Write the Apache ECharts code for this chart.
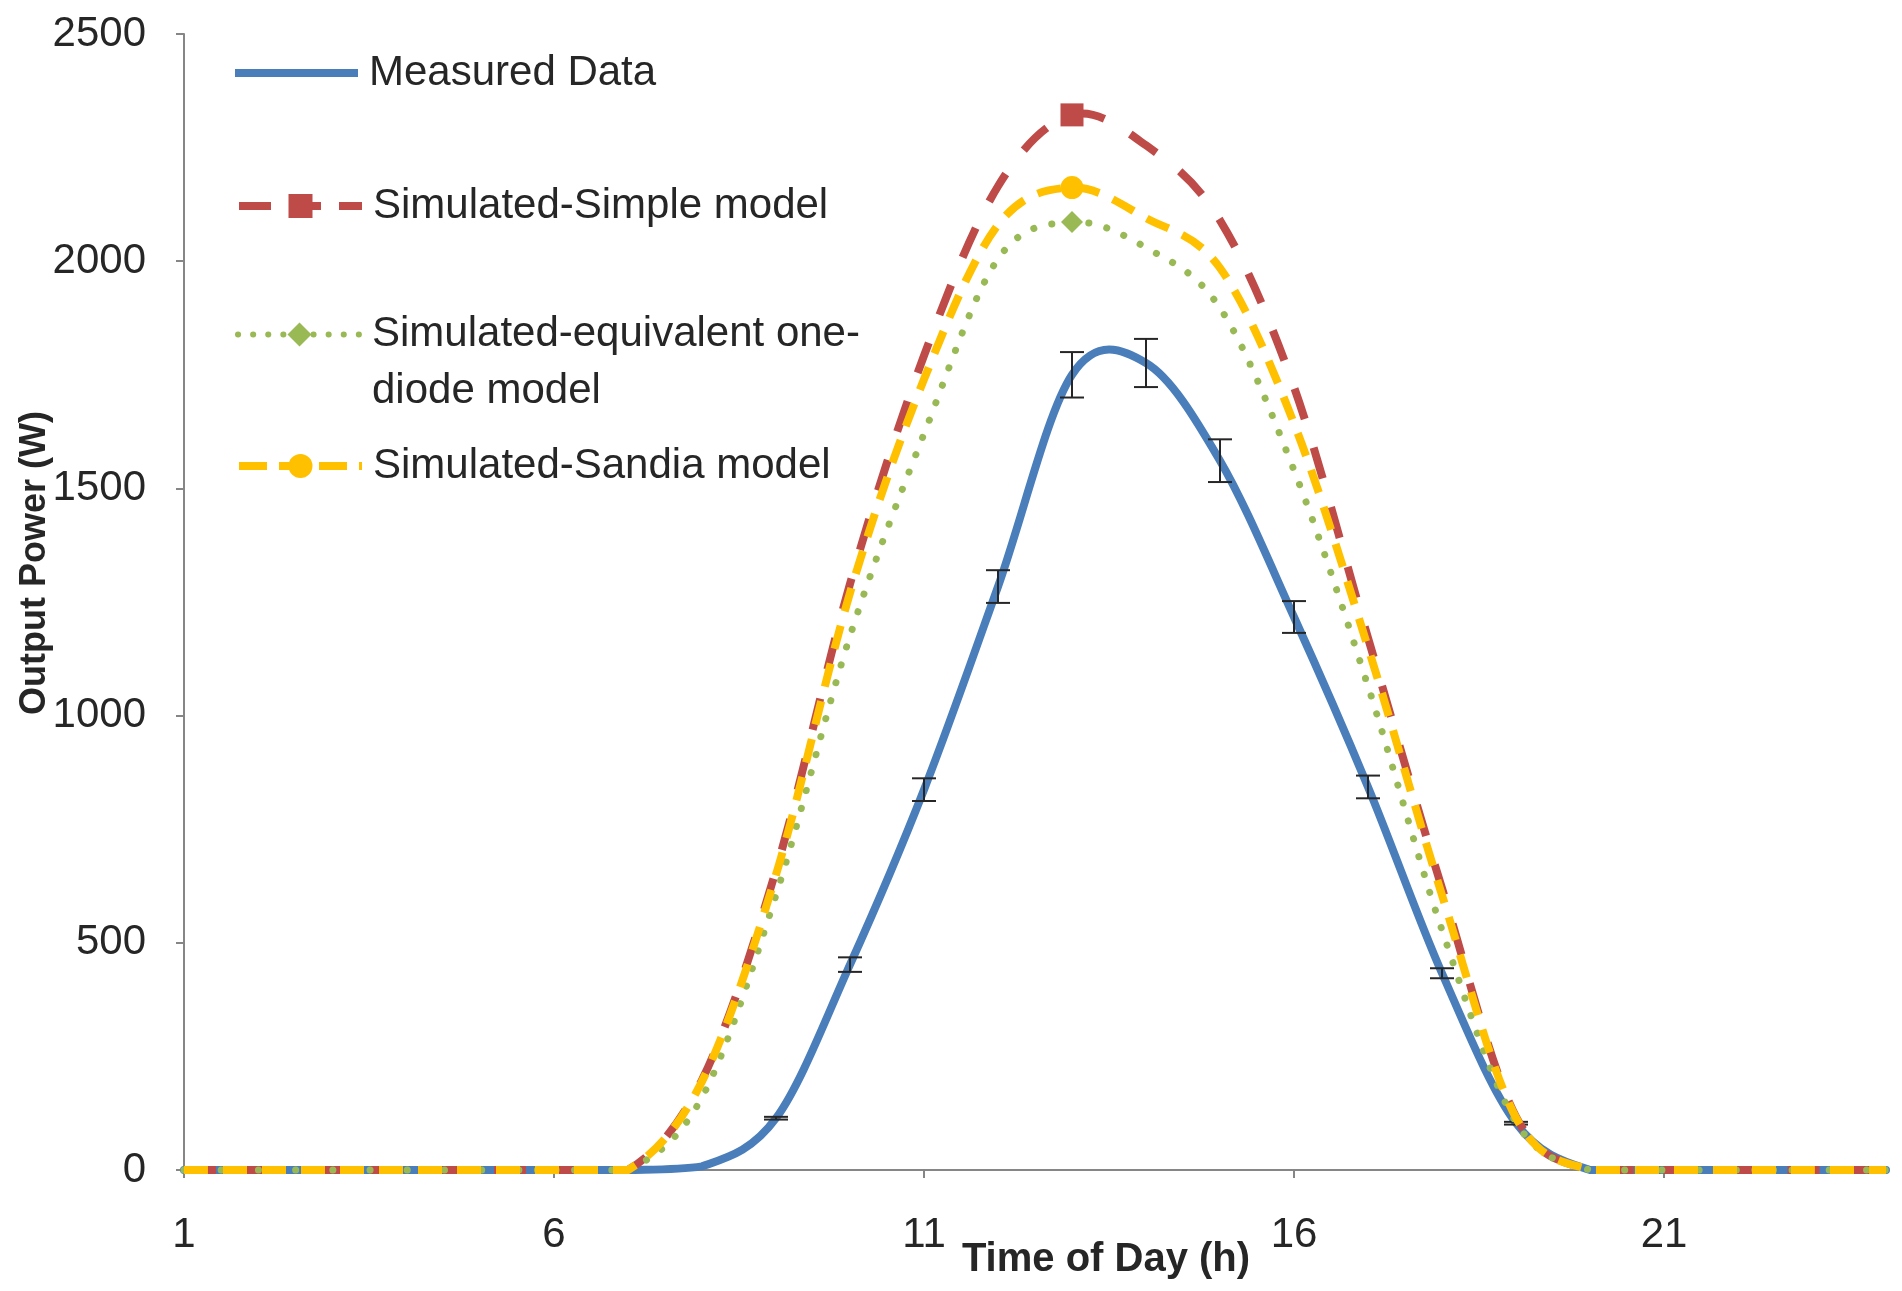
<!DOCTYPE html>
<html>
<head>
<meta charset="utf-8">
<title>Output Power vs Time of Day</title>
<script src="https://cdn.jsdelivr.net/npm/echarts@6/dist/echarts.min.js"></script>
<style>
  html, body { margin: 0; padding: 0; background: #ffffff; }
  #chart { width: 1902px; height: 1291px; }
</style>
</head>
<body>
<div id="chart"></div>
<script>
// Hour of day (category axis)
const hours = ['1','2','3','4','5','6','7','8','9','10','11','12',
               '13','14','15','16','17','18','19','20','21','22','23','24'];

// Output power, W
const measured      = [0,0,0,0,0,0,0,8,114,452,837,1284,1750,1776,1561,1217,843,433,103,0,0,0,0,0];
const measuredErr   = [0,0,0,0,0,0,0,0,3,16,25,36,50,53,47,35,25,11,3,0,0,0,0,0];
const simpleModel   = [0,0,0,0,0,0,0,198,660,1290,1792,2165,2322,2255,2090,1723,1171,620,117,0,0,0,0,0];
const oneDiodeModel = [0,0,0,0,0,0,0,160,605,1175,1620,2005,2086,2030,1897,1540,1065,528,105,0,0,0,0,0];
const sandiaModel   = [0,0,0,0,0,0,0,195,650,1270,1740,2080,2162,2095,1985,1643,1150,605,115,0,0,0,0,0];

// Y axis range and step
const yMin = 0, yMax = 2500, yStep = 500;

const seriesNames = [
  'Measured Data',
  'Simulated-Simple model',
  'Simulated-equivalent one-diode model',
  'Simulated-Sandia model'
];

// Hour whose point carries a marker on the simulated curves
const markerHour = '13';

const FONT = '"Liberation Sans", Arial, sans-serif';
const TEXT = '#262626';
const AXIS = '#868686';
const COLORS = { measured: '#4A7EBB', simple: '#BE4B48', diode: '#98B954', sandia: '#FFC000' };

function withMarker(values, size) {
  return values.map((v, i) => hours[i] === markerHour ? { value: v, symbolSize: size } : v);
}

// Smooth curve through every point (Catmull-Rom converted to cubic Bezier),
// positioned with the grid's own coordinate mapping. Control points are kept
// above the zero line so the curve never dips below 0 W.
function curvePath(values, api) {
  const pts = values.map((v, i) => api.coord([i, v]));
  const zeroY = api.coord([0, 0])[1];
  const n = pts.length;
  let d = 'M' + pts[0][0] + ',' + pts[0][1];
  for (let i = 0; i < n - 1; i++) {
    const p0 = pts[Math.max(i - 1, 0)];
    const p1 = pts[i];
    const p2 = pts[i + 1];
    const p3 = pts[Math.min(i + 2, n - 1)];
    const c1x = p1[0] + (p2[0] - p0[0]) / 6;
    const c1y = Math.min(p1[1] + (p2[1] - p0[1]) / 6, zeroY);
    const c2x = p2[0] - (p3[0] - p1[0]) / 6;
    const c2y = Math.min(p2[1] - (p3[1] - p1[1]) / 6, zeroY);
    d += ' C' + c1x + ',' + c1y + ' ' + c2x + ',' + c2y + ' ' + p2[0] + ',' + p2[1];
  }
  return d;
}

function curveSeries(values, stroke, width, dash, cap) {
  return {
    type: 'custom',
    silent: true,
    data: values.map((v, i) => [i, v]),
    encode: { x: 0, y: 1 },
    renderItem: function (params, api) {
      if (params.dataIndex !== 0) return null;
      return {
        type: 'path',
        shape: { pathData: curvePath(values, api) },
        style: { stroke: stroke, lineWidth: width, lineDash: dash, lineCap: cap || 'butt', lineJoin: 'round', fill: 'none' }
      };
    }
  };
}

// Legend-and-marker series: the line itself is drawn by the curve series
function markerSeries(name, values, symbol, size, color) {
  return {
    name: name,
    type: 'line',
    data: symbol === 'none' ? values : withMarker(values, size),
    symbol: symbol,
    symbolSize: 0,
    showAllSymbol: true,
    lineStyle: { color: color, opacity: 0 },
    itemStyle: { color: color }
  };
}

const errorData = [];
measured.forEach((v, i) => {
  if (measuredErr[i] > 0) errorData.push([i, v - measuredErr[i], v + measuredErr[i]]);
});

const chart = echarts.init(document.getElementById('chart'), null, { renderer: 'canvas' });

const legendText = { fontFamily: FONT, fontSize: 42, color: TEXT, lineHeight: 30, padding: [0, 0, 0, 6] };
const legendBase = {
  orient: 'vertical',
  left: 235,
  itemWidth: 123,
  itemHeight: 30,
  padding: 0,
  selectedMode: false,
  textStyle: legendText
};

const option = {
  backgroundColor: '#ffffff',
  animation: false,
  grid: { left: 184, right: 16, top: 34, bottom: 121, containLabel: false, outerBoundsMode: 'none' },
  legend: [
    Object.assign({}, legendBase, {
      top: 52, itemHeight: 8,
      data: [{ name: seriesNames[0], icon: 'rect' }]
    }),
    Object.assign({}, legendBase, {
      top: 185,
      data: [seriesNames[1]],
      lineStyle: { color: COLORS.simple, width: 8, type: [32, 18], opacity: 1 }
    }),
    Object.assign({}, legendBase, {
      top: 249,
      data: [seriesNames[2]],
      formatter: name => ' \n' + name.replace('one-', 'one-\n'),
      textStyle: Object.assign({}, legendText, { lineHeight: 57 }),
      lineStyle: { color: COLORS.diode, width: 6, type: [0.1, 15], cap: 'round', opacity: 1 }
    }),
    Object.assign({}, legendBase, {
      top: 445,
      data: [seriesNames[3]],
      lineStyle: { color: COLORS.sandia, width: 8, type: [28, 12], opacity: 1 }
    })
  ],
  xAxis: {
    type: 'category',
    data: hours,
    boundaryGap: false,
    axisLine: { show: true, lineStyle: { color: AXIS, width: 2 } },
    axisTick: { show: true, interval: 4, length: 8, lineStyle: { color: AXIS, width: 2 } },
    axisLabel: { interval: 4, margin: 44, fontFamily: FONT, fontSize: 42, color: TEXT },
    splitLine: { show: false },
    name: 'Time of Day (h)',
    nameLocation: 'middle',
    nameGap: 70,
    nameMoveOverlap: false,
    nameTextStyle: { fontFamily: FONT, fontSize: 40, fontWeight: 'bold', color: TEXT, padding: [0, 0, 0, 142] }
  },
  yAxis: {
    type: 'value',
    min: yMin, max: yMax, interval: yStep,
    axisLine: { show: true, lineStyle: { color: AXIS, width: 2 } },
    axisTick: { show: true, length: 8, lineStyle: { color: AXIS, width: 2 } },
    axisLabel: { margin: 38, fontFamily: FONT, fontSize: 42, color: TEXT, formatter: v => String(v) },
    splitLine: { show: false },
    name: 'Output Power (W)',
    nameLocation: 'middle',
    nameGap: 131,
    nameMoveOverlap: false,
    nameTextStyle: { fontFamily: FONT, fontSize: 36, fontWeight: 'bold', color: TEXT, padding: [0, 0, 0, 78] }
  },
  series: [
    curveSeries(measured, COLORS.measured, 8, null, 'round'),
    {
      name: 'error',
      type: 'custom',
      silent: true,
      data: errorData,
      encode: { x: 0, y: [1, 2] },
      renderItem: function (params, api) {
        const x = api.value(0);
        const lo = api.coord([x, api.value(1)]);
        const hi = api.coord([x, api.value(2)]);
        const half = 12;
        const style = { stroke: '#262626', lineWidth: 2 };
        return {
          type: 'group',
          children: [
            { type: 'line', shape: { x1: lo[0], y1: lo[1], x2: hi[0], y2: hi[1] }, style: style },
            { type: 'line', shape: { x1: lo[0] - half, y1: lo[1], x2: lo[0] + half, y2: lo[1] }, style: style },
            { type: 'line', shape: { x1: hi[0] - half, y1: hi[1], x2: hi[0] + half, y2: hi[1] }, style: style }
          ]
        };
      }
    },
    curveSeries(simpleModel, COLORS.simple, 8, [32, 30], 'butt'),
    curveSeries(oneDiodeModel, COLORS.diode, 7, [0.1, 18.5], 'round'),
    curveSeries(sandiaModel, COLORS.sandia, 8, [24, 15], 'butt'),
    markerSeries(seriesNames[0], measured, 'none', 0, COLORS.measured),
    markerSeries(seriesNames[1], simpleModel, 'rect', 23, COLORS.simple),
    markerSeries(seriesNames[2], oneDiodeModel, 'diamond', 22, COLORS.diode),
    markerSeries(seriesNames[3], sandiaModel, 'circle', 23, COLORS.sandia)
  ]
};

chart.setOption(option);
</script>
</body>
</html>
